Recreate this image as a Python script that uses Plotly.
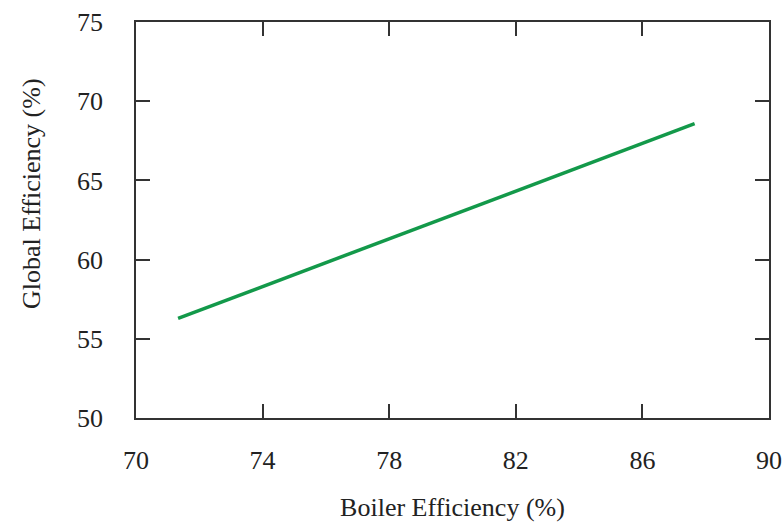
import plotly.graph_objects as go

boiler_eff = [71.33, 87.65]
global_eff = [56.29, 68.58]

x_ticks = [70, 74, 78, 82, 86, 90]
y_ticks = [50, 55, 60, 65, 70, 75]

axis_color = "#333333"
text_color = "#222222"
font_family = "Liberation Serif, Times New Roman, serif"
font_size = 26

fig = go.Figure()
fig.add_trace(go.Scatter(
    x=boiler_eff, y=global_eff, mode="lines",
    line=dict(color="#13994a", width=3.5),
    showlegend=False,
))

common = dict(
    showline=True, linecolor=axis_color, linewidth=1.5, mirror="ticks",
    ticks="inside", ticklen=14, tickwidth=1.5, tickcolor=axis_color,
    showgrid=False, zeroline=False, ticklabeloverflow="allow",
    tickfont=dict(family=font_family, size=font_size, color=text_color),
)

fig.update_xaxes(range=[70, 90], tickvals=x_ticks, ticklabelstandoff=18,
                 title=dict(text="Boiler Efficiency (%)", standoff=24,
                            font=dict(family=font_family, size=font_size, color=text_color)),
                 **common)
fig.update_yaxes(range=[50, 75], tickvals=y_ticks, ticklabelstandoff=26, **common)

fig.add_annotation(
    text="Global Efficiency (%)", xref="paper", yref="paper",
    x=-0.166, y=0.568, xanchor="center", yanchor="middle", textangle=-90,
    showarrow=False, font=dict(family=font_family, size=font_size, color=text_color),
)

fig.update_layout(
    width=784, height=524,
    margin=dict(l=136, r=15, t=22, b=106, autoexpand=False),
    paper_bgcolor="white", plot_bgcolor="white",
)

fig.write_html("out.html", config={"displayModeBar": False},
               post_script="document.body.style.margin='0';")
